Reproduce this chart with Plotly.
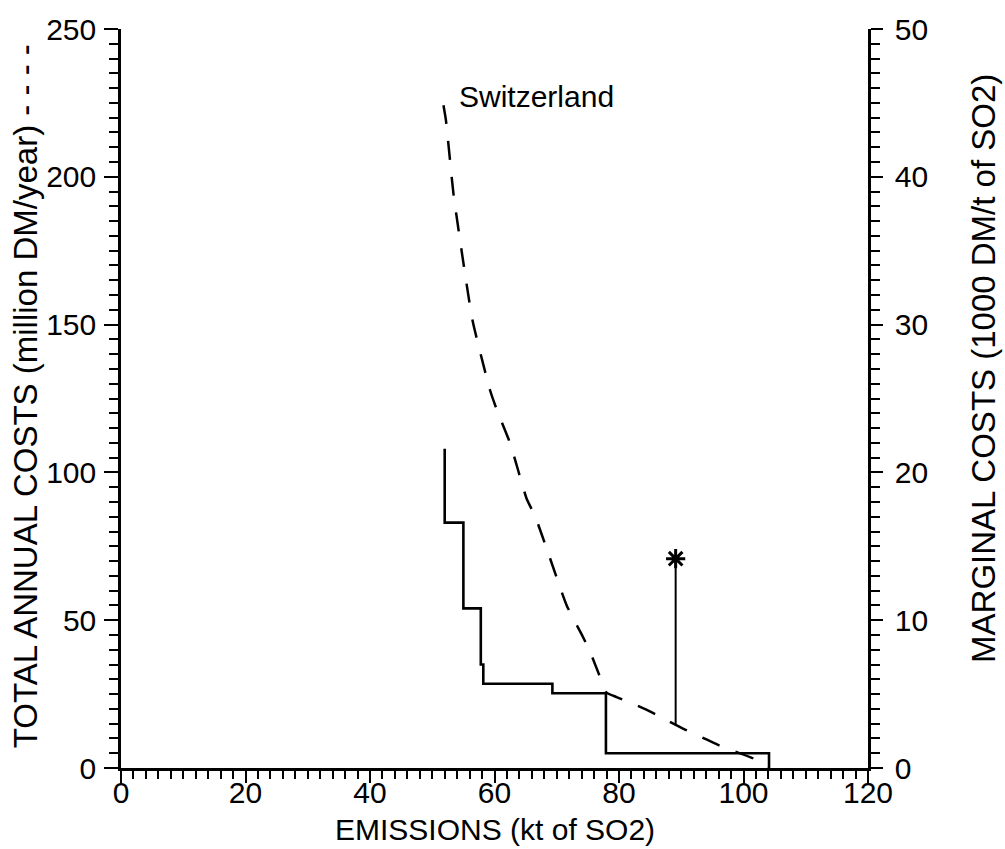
import plotly.graph_objects as go

# Total annual abatement costs, Switzerland (million DM/year) vs. emissions (kt SO2)
total_emissions = [51.8, 52.2, 53.4, 55.1, 56.5, 59.3, 60.4, 62.5, 65.2, 66.5, 68.4,
                   71.6, 74.0, 75.3, 77.6, 78.0, 79.6, 82.3, 85.2, 87.9, 90.6, 93.3,
                   95.9, 98.6, 101.5, 104.0]
total_costs = [224.2, 219.1, 194.4, 169.5, 151.1, 127.7, 121.0, 109.9, 90.9, 85.3, 74.1,
               55.0, 45.2, 39.6, 27.3, 25.5, 24.0, 21.7, 18.9, 15.9, 13.0, 10.4,
               7.8, 5.6, 3.3, 0.0]

# Marginal cost step function (1000 DM/t SO2); each point closes a step (hv shape)
marginal_emissions = [52.0, 52.0, 55.0, 57.8, 58.2, 69.3, 77.9, 104.1]
marginal_costs = [21.6, 16.6, 10.8, 7.0, 5.7, 5.06, 1.0, 0.0]

# Marked emission level
marked_emissions = [89.1, 89.1]
marked_costs = [14.7, 70.8]

country_label = "Switzerland"
x_ticks = [0, 20, 40, 60, 80, 100, 120]
y_ticks = [0, 50, 100, 150, 200, 250]
y2_ticks = [0, 10, 20, 30, 40, 50]

TICK_FONT = dict(family="Liberation Sans, Arial, sans-serif", size=30, color="black")
TITLE_FONT = dict(family="Liberation Sans, Arial, sans-serif", size=33, color="black")

fig = go.Figure()

fig.add_trace(go.Scatter(
    x=total_emissions, y=total_costs, mode="lines",
    line=dict(color="black", width=2.5, dash="19px,17px", shape="spline", smoothing=0.5),
    yaxis="y", showlegend=False, hoverinfo="skip",
))

fig.add_trace(go.Scatter(
    x=marginal_emissions, y=marginal_costs, mode="lines",
    line=dict(color="black", width=2.6, shape="hv"),
    yaxis="y2", showlegend=False, hoverinfo="skip",
))

fig.add_trace(go.Scatter(
    x=marked_emissions, y=marked_costs, mode="lines",
    line=dict(color="black", width=2),
    yaxis="y", showlegend=False, hoverinfo="skip",
))
fig.add_trace(go.Scatter(
    x=marked_emissions[1:], y=marked_costs[1:], mode="markers",
    marker=dict(symbol="asterisk-open", size=16, color="black",
                line=dict(color="black", width=3)),
    yaxis="y", showlegend=False, hoverinfo="skip",
))

fig.add_annotation(
    x=53.9, y=227.3, xref="x", yref="y", text=country_label, showarrow=False,
    xanchor="left", yanchor="middle", font=TICK_FONT,
)

# Axis titles
fig.add_annotation(
    x=0, xref="paper", xshift=-96, y=0.503, yref="paper",
    text="TOTAL ANNUAL COSTS (million DM/year) - - - -", textangle=-90,
    showarrow=False, xanchor="center", yanchor="middle", font=TITLE_FONT,
)
fig.add_annotation(
    x=1, xref="paper", xshift=116, y=0.54, yref="paper",
    text="MARGINAL COSTS (1000 DM/t of SO2)", textangle=-90,
    showarrow=False, xanchor="center", yanchor="middle", font=TITLE_FONT,
)
fig.add_annotation(
    x=0.5, xref="paper", y=0, yref="paper", yshift=-61,
    text="EMISSIONS (kt of SO2)", showarrow=False,
    xanchor="center", yanchor="middle", font=dict(TITLE_FONT, size=30),
)

axis_common = dict(
    showline=True, linecolor="black", showgrid=False, zeroline=False,
    ticks="outside", tickcolor="black", tickfont=TICK_FONT,
)

fig.update_layout(
    width=1005, height=849,
    margin=dict(l=121, r=137, t=21, b=81),
    paper_bgcolor="white", plot_bgcolor="white",
    xaxis=dict(
        range=[0, 120], tickvals=x_ticks, linewidth=3, ticklen=12, tickwidth=2,
        ticklabelstandoff=-16,
        minor=dict(dtick=2, ticklen=8, tickwidth=1.5, tickcolor="black", ticks="outside"),
        **axis_common,
    ),
    yaxis=dict(
        range=[0, 250], tickvals=y_ticks, linewidth=2.5, ticklen=14, tickwidth=2,
        ticklabelstandoff=2,
        minor=dict(dtick=5, ticklen=9, tickwidth=2, tickcolor="black", ticks="outside"),
        **axis_common,
    ),
    yaxis2=dict(
        range=[0, 50], tickvals=y2_ticks, overlaying="y", side="right",
        linewidth=2.5, ticklen=12, tickwidth=2, ticklabelstandoff=6,
        minor=dict(dtick=1, ticklen=9, tickwidth=2, tickcolor="black", ticks="outside"),
        **axis_common,
    ),
)

fig.write_html("out.html")
